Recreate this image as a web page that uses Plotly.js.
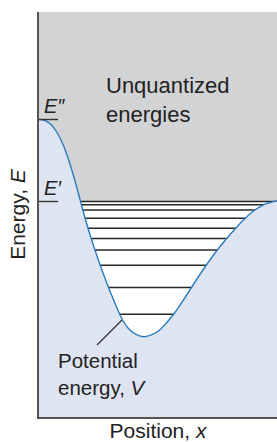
<!DOCTYPE html>
<html><head><meta charset="utf-8">
<script src="https://cdn.plot.ly/plotly-3.0.1.min.js"></script>
<style>html,body{margin:0;padding:0;background:#fff}#chart{width:277px;height:442px}</style>
</head><body><div id="chart"></div>
<script>
// Position (arbitrary units) and potential energy V (arbitrary units)
const positionX = [0, 6, 12, 18, 24, 30, 36, 41, 46, 52, 59, 67, 75, 82, 89, 97, 105, 113, 120, 126, 136, 146, 156, 166, 176, 186, 196, 206, 216, 226, 232, 238];
const potentialV = [297.5, 296.5, 292.5, 284.5, 272.5, 256, 236, 217.5, 199, 179, 158, 136, 116, 100, 89, 82.6, 80.2, 82.3, 86.5, 92.5, 104.5, 119.5, 135, 150, 164, 176.5, 188, 198.5, 207, 212.8, 214.8, 216];
// Quantized energy levels (top one is E')
const energyLevels = [215.5, 212.2, 207, 198.7, 188.7, 178.5, 167, 151.8, 129.5, 102.8];
const ePrime = 215.5;
const eDoublePrime = 297.5;
const xRange = [0, 238];
const yRange = [0, 405];

const lvX = [], lvY = [];
energyLevels.forEach(l => { lvX.push(xRange[0], xRange[1], null); lvY.push(l, l, null); });

const FONT = 'Liberation Sans, Arial, sans-serif';
const traces = [
  { x: lvX, y: lvY, mode: 'lines', line: { color: '#262626', width: 1.5 }, hoverinfo: 'skip', showlegend: false },
  { x: positionX, y: potentialV, mode: 'lines', fill: 'tozeroy', fillcolor: '#dfe4f2',
    line: { color: '#2b7bc0', width: 1.4, shape: 'spline', smoothing: 1 }, showlegend: false }
];

const layout = {
  width: 277, height: 442,
  margin: { l: 39, r: 0, t: 12, b: 25 },
  paper_bgcolor: '#ffffff',
  plot_bgcolor: '#d2d3d5',
  font: { family: FONT, size: 20, color: '#222' },
  xaxis: { range: xRange, showgrid: false, zeroline: false, showticklabels: false, ticks: '',
    showline: true, linecolor: '#555', linewidth: 1.6, fixedrange: true,
    title: { text: 'Position, <i>x</i>', font: { family: FONT, size: 21, color: '#222' }, standoff: 6 } },
  yaxis: { range: yRange, showgrid: false, zeroline: false, showticklabels: false, ticks: '',
    showline: true, linecolor: '#555', linewidth: 1.6, fixedrange: true,
    title: { text: 'Energy, <i>E</i>', font: { family: FONT, size: 21, color: '#222' }, standoff: 6 } },
  shapes: [
    { type: 'rect', layer: 'below', xref: 'x', yref: 'y', x0: xRange[0], x1: xRange[1], y0: 0, y1: ePrime, fillcolor: '#ffffff', line: { width: 0 } },
    { type: 'line', xref: 'x', yref: 'y', x0: 0, x1: 19, y0: ePrime, y1: ePrime, line: { color: '#333', width: 1.4 } },
    { type: 'line', xref: 'x', yref: 'y', x0: 0, x1: 19, y0: eDoublePrime, y1: eDoublePrime, line: { color: '#333', width: 1.4 } },
    { type: 'line', xref: 'x', yref: 'y', x0: 58, x1: 83, y0: 72, y1: 97, line: { color: '#333', width: 1.3 } }
  ],
  annotations: [
    { xref: 'x', yref: 'y', x: 3, y: ePrime + 1, xanchor: 'left', yanchor: 'bottom', showarrow: false, text: '<i>E′</i>', font: { family: FONT, size: 20, color: '#222' } },
    { xref: 'x', yref: 'y', x: 3, y: eDoublePrime + 1, xanchor: 'left', yanchor: 'bottom', showarrow: false, text: '<i>E″</i>', font: { family: FONT, size: 20, color: '#222' } },
    { xref: 'x', yref: 'y', x: 65, y: 346, xanchor: 'left', yanchor: 'top', align: 'left', showarrow: false, text: 'Unquantized<br>energies', font: { family: FONT, size: 22, color: '#222' } },
    { xref: 'x', yref: 'y', x: 17, y: 70, xanchor: 'left', yanchor: 'top', align: 'left', showarrow: false, text: 'Potential<br>energy, <i>V</i>', font: { family: FONT, size: 20.5, color: '#222' } }
  ]
};
Plotly.newPlot('chart', traces, layout, { displayModeBar: false, staticPlot: true });
</script></body></html>
